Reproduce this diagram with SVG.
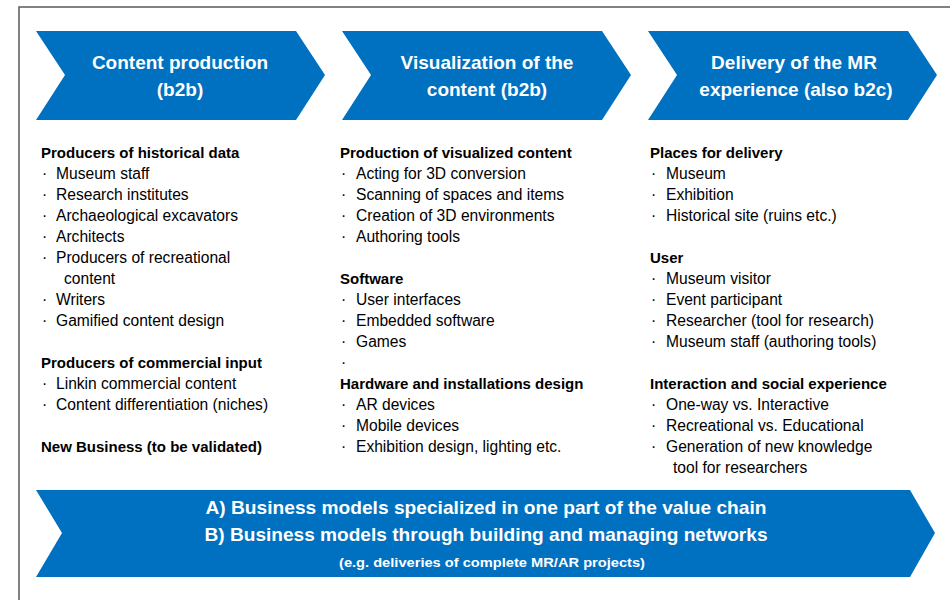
<svg xmlns="http://www.w3.org/2000/svg" width="950" height="600" viewBox="0 0 950 600">
<style>
.chev{fill:#0070c0;}
.t{font-family:"Liberation Sans",Arial,sans-serif;fill:#ffffff;font-weight:bold;text-anchor:middle;}
.h{font-family:"Liberation Sans",Arial,sans-serif;font-size:15px;font-weight:bold;fill:#000;}
.i{font-family:"Liberation Sans",Arial,sans-serif;font-size:15.6px;fill:#000;}
.frame{fill:none;stroke:#595959;stroke-width:1.5;}
</style>
<rect width="950" height="600" fill="#ffffff"/>
<path class="frame" d="M19,600 L19,7 L950,7"/>

<g id="chevron-content-production">
<path class="chev" d="M36,31 L296,31 L325,75 L296,120 L36,120 L65,75 Z"/>
<text class="t" font-size="19" x="180" y="69">Content production</text>
<text class="t" font-size="19" x="180" y="96">(b2b)</text>
</g>

<g id="chevron-visualization">
<path class="chev" d="M342,31 L602,31 L631,75 L602,120 L342,120 L371,75 Z"/>
<text class="t" font-size="19" x="487" y="69">Visualization of the</text>
<text class="t" font-size="19" x="487" y="96">content (b2b)</text>
</g>

<g id="chevron-delivery">
<path class="chev" d="M648,31 L908,31 L937,75 L908,120 L648,120 L677,75 Z"/>
<text class="t" font-size="19" x="794" y="69">Delivery of the MR</text>
<text class="t" font-size="19" x="796" y="96">experience (also b2c)</text>
</g>

<g id="column-content-production">
<text class="h" x="41" y="158">Producers of historical data</text>
<text class="i" x="42" y="179">·</text><text class="i" x="56" y="179">Museum staff</text>
<text class="i" x="42" y="200">·</text><text class="i" x="56" y="200">Research institutes</text>
<text class="i" x="42" y="221">·</text><text class="i" x="56" y="221">Archaeological excavators</text>
<text class="i" x="42" y="242">·</text><text class="i" x="56" y="242">Architects</text>
<text class="i" x="42" y="263">·</text><text class="i" x="56" y="263">Producers of recreational</text>
<text class="i" x="64" y="284">content</text>
<text class="i" x="42" y="305">·</text><text class="i" x="56" y="305">Writers</text>
<text class="i" x="42" y="326">·</text><text class="i" x="56" y="326">Gamified content design</text>
<text class="h" x="41" y="368">Producers of commercial input</text>
<text class="i" x="42" y="389">·</text><text class="i" x="56" y="389">Linkin commercial content</text>
<text class="i" x="42" y="410">·</text><text class="i" x="56" y="410">Content differentiation (niches)</text>
<text class="h" x="41" y="452">New Business (to be validated)</text>
</g>

<g id="column-visualization">
<text class="h" x="340" y="158">Production of visualized content</text>
<text class="i" x="341" y="179">·</text><text class="i" x="356" y="179">Acting for 3D conversion</text>
<text class="i" x="341" y="200">·</text><text class="i" x="356" y="200">Scanning of spaces and items</text>
<text class="i" x="341" y="221">·</text><text class="i" x="356" y="221">Creation of 3D environments</text>
<text class="i" x="341" y="242">·</text><text class="i" x="356" y="242">Authoring tools</text>
<text class="h" x="340" y="284">Software</text>
<text class="i" x="341" y="305">·</text><text class="i" x="356" y="305">User interfaces</text>
<text class="i" x="341" y="326">·</text><text class="i" x="356" y="326">Embedded software</text>
<text class="i" x="341" y="347">·</text><text class="i" x="356" y="347">Games</text>
<text class="i" x="341" y="368">·</text>
<text class="h" x="340" y="389">Hardware and installations design</text>
<text class="i" x="341" y="410">·</text><text class="i" x="356" y="410">AR devices</text>
<text class="i" x="341" y="431">·</text><text class="i" x="356" y="431">Mobile devices</text>
<text class="i" x="341" y="452">·</text><text class="i" x="356" y="452">Exhibition design, lighting etc.</text>
</g>

<g id="column-delivery">
<text class="h" x="650" y="158">Places for delivery</text>
<text class="i" x="651" y="179">·</text><text class="i" x="666" y="179">Museum</text>
<text class="i" x="651" y="200">·</text><text class="i" x="666" y="200">Exhibition</text>
<text class="i" x="651" y="221">·</text><text class="i" x="666" y="221">Historical site (ruins etc.)</text>
<text class="h" x="650" y="263">User</text>
<text class="i" x="651" y="284">·</text><text class="i" x="666" y="284">Museum visitor</text>
<text class="i" x="651" y="305">·</text><text class="i" x="666" y="305">Event participant</text>
<text class="i" x="651" y="326">·</text><text class="i" x="666" y="326">Researcher (tool for research)</text>
<text class="i" x="651" y="347">·</text><text class="i" x="666" y="347">Museum staff (authoring tools)</text>
<text class="h" x="650" y="389">Interaction and social experience</text>
<text class="i" x="651" y="410">·</text><text class="i" x="666" y="410">One-way vs. Interactive</text>
<text class="i" x="651" y="431">·</text><text class="i" x="666" y="431">Recreational vs. Educational</text>
<text class="i" x="651" y="452">·</text><text class="i" x="666" y="452">Generation of new knowledge</text>
<text class="i" x="673" y="473">tool for researchers</text>
</g>

<g id="business-models-arrow">
<path class="chev" d="M36,490 L910,490 L935,533 L910,577 L36,577 L62,533 Z"/>
<text class="t" font-size="19" x="486" y="514" textLength="561" lengthAdjust="spacingAndGlyphs">A) Business models specialized in one part of the value chain</text>
<text class="t" font-size="19" x="486" y="541" textLength="563" lengthAdjust="spacingAndGlyphs">B) Business models through building and managing networks</text>
<text class="t" font-size="13.5" x="492" y="567" textLength="306" lengthAdjust="spacingAndGlyphs">(e.g. deliveries of complete MR/AR projects)</text>
</g>
</svg>
